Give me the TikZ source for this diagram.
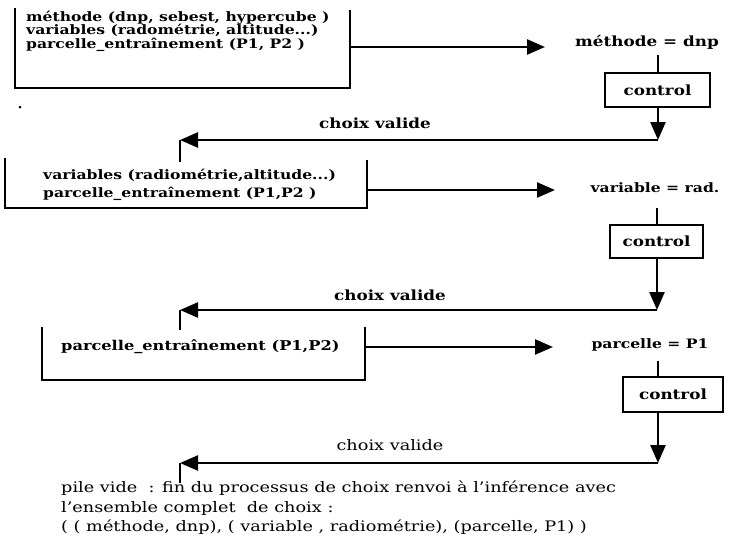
\documentclass[tikz,border=0pt]{standalone}
\usepackage{fontspec}
\setmainfont{DejaVu Serif}
\newfontfamily\widefont[FakeStretch=1.2,Ligatures=TeX]{DejaVu Serif}
\newfontfamily\bottomfont[FakeStretch=1.22,Ligatures=TeX]{DejaVu Serif}
\usetikzlibrary{arrows.meta}
\begin{document}
\begin{tikzpicture}[x=1pt,y=-1pt,line width=2.4pt,
  tip/.style={-{Triangle[length=18pt,width=15pt]}},
  boxtext/.style={align=left,inner sep=0pt,font=\widefont\bfseries\fontsize{13}{13.4}\selectfont},
  lbl/.style={inner sep=0pt,font=\widefont\bfseries\fontsize{13}{15}\selectfont},
  vlbl/.style={inner sep=0pt,font=\widefont\bfseries\fontsize{14}{16}\selectfont},
  ctrl/.style={draw,line width=2.4pt,inner sep=0pt,font=\widefont\bfseries\fontsize{14}{16}\selectfont},
  endtext/.style={align=left,inner sep=0pt,font=\bottomfont\fontsize{14.5}{19.5}\selectfont}]
\useasboundingbox (0,0) rectangle (729,552);
% ---- stage 1
\node[boxtext,anchor=north west] (t1) at (25,10)
  {méthode (dnp, sebest, hypercube )\\variables (radométrie, altitude...)\\parcelle\_entraînement (P1, P2 )};
\draw (15,8) -- (15,88) -- (350,88) -- (350,10);
\fill (20,107) circle (1.5pt);
\coordinate (b1) at (350,47);
\coordinate (e1) at (545,47);
\node[lbl,font=\widefont\bfseries\fontsize{14}{16}\selectfont] (m1) at (647,42) {méthode = dnp};
\node[ctrl,minimum width=105pt,minimum height=34pt] (c1) at (657.5,90) {control};
\coordinate (k1) at (658,55);
\coordinate (a1) at (658,140);
\coordinate (r1) at (180,140);
\coordinate (s1) at (180,162);
\draw[tip] (b1) -- (e1);
\draw (k1) -- (k1 |- c1.north);
\draw[tip] (a1 |- c1.south) -- (a1);
\draw[tip] (a1) -- (r1);
\draw (r1) -- (s1);
\node[vlbl] (v1) at (375,123) {choix valide};
% ---- stage 2
\node[boxtext,anchor=north west,font=\widefont\bfseries\fontsize{13}{18}\selectfont] (t2) at (42,168)
  {variables (radiométrie,altitude...)\\parcelle\_entraînement (P1,P2 )};
\draw (5,158) -- (5,208) -- (367,208) -- (367,160);
\coordinate (b2) at (367,190);
\coordinate (e2) at (555,190);
\node[lbl] (m2) at (655,188) {variable = rad.};
\node[ctrl,minimum width=93pt,minimum height=33pt] (c2) at (656.5,241.5) {control};
\coordinate (k2) at (657,208);
\coordinate (a2) at (657,310);
\coordinate (r2) at (180,310);
\coordinate (s2) at (180,330);
\draw[tip] (b2) -- (e2);
\draw (k2) -- (k2 |- c2.north);
\draw[tip] (a2 |- c2.south) -- (a2);
\draw[tip] (a2) -- (r2);
\draw (r2) -- (s2);
\node[vlbl] (v2) at (390,295) {choix valide};
% ---- stage 3
\node[boxtext,anchor=west,font=\widefont\bfseries\fontsize{13.5}{15}\selectfont] (t3) at (60,347) {parcelle\_entraînement (P1,P2)};
\draw (42,327) -- (42,380) -- (365,380) -- (365,327);
\coordinate (b3) at (365,347);
\coordinate (e3) at (553,347);
\node[lbl] (m3) at (650,345) {parcelle = P1};
\node[ctrl,minimum width=100pt,minimum height=35pt] (c3) at (673,394.5) {control};
\coordinate (k3) at (658,361);
\coordinate (a3) at (658,463);
\coordinate (r3) at (180,463);
\coordinate (s3) at (180,483);
\draw[tip] (b3) -- (e3);
\draw (k3) -- (k3 |- c3.north);
\draw[tip] (a3 |- c3.south) -- (a3);
\draw[tip] (a3) -- (r3);
\draw (r3) -- (s3);
\node[vlbl,font=\bottomfont\fontsize{14.5}{16}\selectfont] (v3) at (390,445) {choix valide};
% ---- end
\node[endtext,anchor=north west] (f) at (60,480)
  {pile vide~ : fin du processus de choix renvoi à l'inférence avec\\l'ensemble complet~ de choix :\\( ( méthode, dnp), ( variable , radiométrie), (parcelle, P1) )};
\end{tikzpicture}
\end{document}
